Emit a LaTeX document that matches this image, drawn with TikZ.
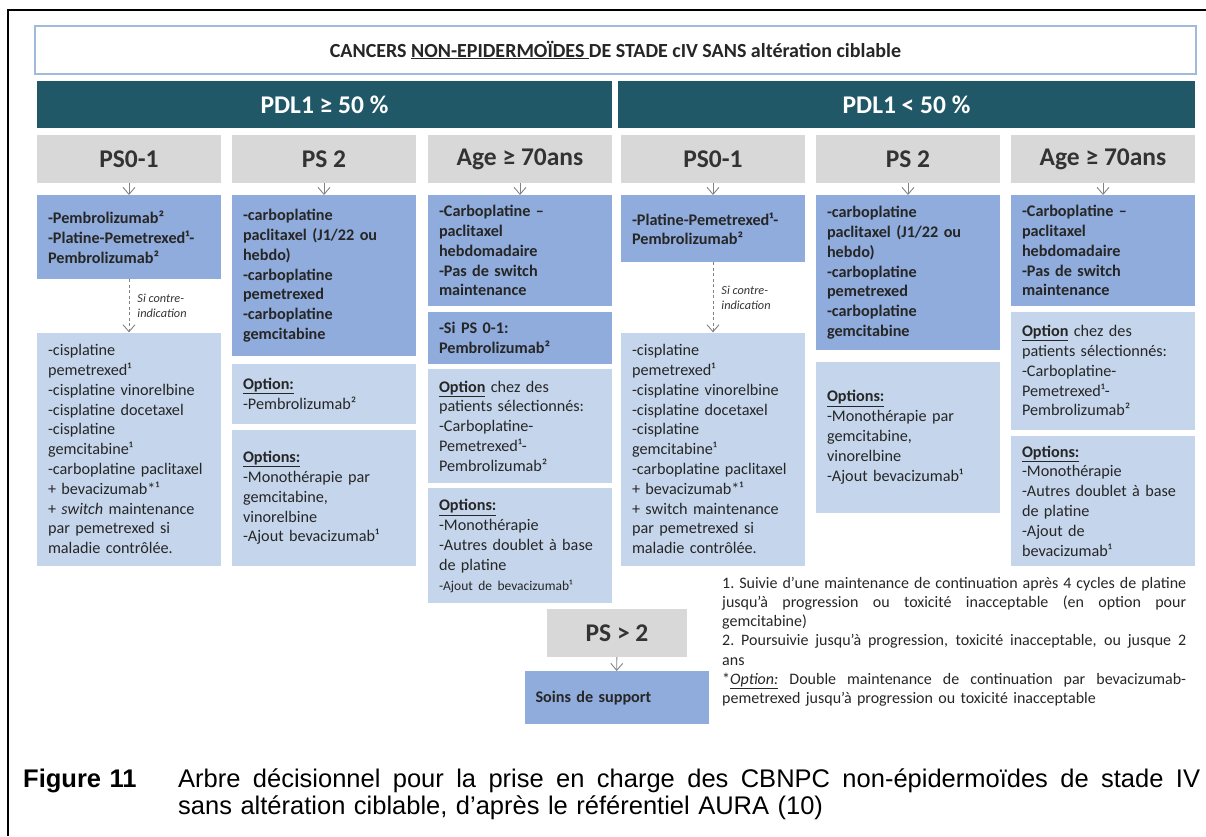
\documentclass[tikz,border=0pt]{standalone}
\usepackage{fontspec}
\setmainfont{Carlito}
\newfontfamily\capfont{Liberation Sans}
\usetikzlibrary{arrows.meta,positioning}
\definecolor{darkteal}{RGB}{33,88,104}
\definecolor{headgray}{RGB}{216,216,216}
\definecolor{midblue}{RGB}{143,172,220}
\definecolor{paleblue}{RGB}{197,214,236}
\definecolor{titleblue}{RGB}{160,185,220}
\definecolor{arrowgray}{RGB}{130,130,130}
\newcommand{\boxfont}{\fontsize{16.2}{19.8}\selectfont}
\newcommand{\headfont}{\fontsize{25.5}{28}\selectfont\bfseries}
\newcommand{\notefont}{\fontsize{16}{19.3}\selectfont}
\newcommand{\capsize}{\fontsize{25.5}{27}\selectfont}
\newcommand{\opt}[1]{\textbf{\underline{#1}}}
\newcommand{\spreadline}[2][\linewidth]{{\spaceskip=.25em plus 3em minus .05em\xspaceskip=\spaceskip\makebox[#1][s]{#2}}}

\begin{document}
\begin{tikzpicture}[x=1pt,y=-1pt,
    titlebox/.style={draw=titleblue, line width=1.2pt, fill=white, minimum width=1161pt, minimum height=48pt, font=\fontsize{20}{22}\selectfont\bfseries, text=black!85},
    bar/.style={fill=darkteal, text=white, minimum height=47pt, font=\headfont, inner sep=0pt},
    psbox/.style={fill=headgray, text=black!80, minimum width=184pt, minimum height=48pt, font=\headfont, inner sep=0pt},
    darkbox/.style={fill=midblue, text=black!85, text width=162pt, inner xsep=11pt, inner ysep=2pt, align=left, font=\boxfont\bfseries},
    lightbox/.style={fill=paleblue, text=black!85, text width=162pt, inner xsep=11pt, inner ysep=2pt, align=left, font=\boxfont},
    varrow/.style={draw=arrowgray, line width=0.9pt, -{Straight Barb[length=7pt,width=12pt]}},
    dasharrow/.style={varrow, dash pattern=on 3pt off 2.5pt},
    sinote/.style={right, xshift=8pt, font=\fontsize{12.3}{15}\selectfont\itshape, text=black!80, align=left, inner sep=0pt}
]
    \useasboundingbox (0,0) rectangle (1206,836);
    \draw[line width=2pt] (8,836) -- (8,10) -- (1206,10);

    % title and PD-L1 bars
    \node[titlebox] (title) at (615.5,50) {CANCERS \underline{NON-EPIDERMOÏDES }DE STADE cIV SANS altération ciblable};
    \node[bar, minimum width=575pt] (pdlhi) at (324.5,104.5) {PDL1 ≥ 50 \%};
    \node[bar, minimum width=577pt] (pdllo) at (906.5,104.5) {PDL1 < 50 \%};

    % PS headers
    \node[psbox] (g1) at (129,159) {PS0-1};
    \node[psbox] (g2) at (324,159) {PS 2};
    \node[psbox] (g3) at (520,159) {Age ≥ 70ans};
    \node[psbox] (g4) at (713,159) {PS0-1};
    \node[psbox] (g5) at (908,159) {PS 2};
    \node[psbox] (g6) at (1103,159) {Age ≥ 70ans};

    % PDL1 >= 50
    \node[darkbox, anchor=north, minimum height=84pt] (c1a) at (129,195) {-Pembrolizumab²\\-Platine-Pemetrexed¹-\\Pembrolizumab²};
    \node[lightbox, below=53pt of c1a, minimum height=233pt] (c1b) {-cisplatine\\pemetrexed¹\\-cisplatine vinorelbine\\-cisplatine docetaxel\\-cisplatine\\gemcitabine¹\\-carboplatine paclitaxel\\+ bevacizumab*¹\\+ \textit{switch} maintenance\\par pemetrexed si\\maladie contrôlée.};

    \node[darkbox, anchor=north, minimum height=161pt] (c2a) at (324,195) {-carboplatine\\paclitaxel (J1/22 ou\\hebdo)\\-carboplatine\\pemetrexed\\-carboplatine\\gemcitabine};
    \node[lightbox, below=7pt of c2a, minimum height=60pt] (c2b) {\opt{Option:}\\-Pembrolizumab²};
    \node[lightbox, below=6pt of c2b, minimum height=136pt] (c2c) {\opt{Options:}\\-Monothérapie par\\gemcitabine,\\vinorelbine\\-Ajout bevacizumab¹};

    \node[darkbox, anchor=north, minimum height=111pt] (c3a) at (520,195) {-Carboplatine –\\paclitaxel\\hebdomadaire\\-Pas de switch\\maintenance};
    \node[darkbox, below=5pt of c3a, minimum height=52pt] (c3b) {-Si PS 0-1:\\Pembrolizumab²};
    \node[lightbox, below=5pt of c3b, minimum height=114pt] (c3c) {\opt{Option} chez des\\patients sélectionnés:\\-Carboplatine-\\Pemetrexed¹-\\Pembrolizumab²};
    \node[lightbox, below=5pt of c3c, minimum height=115pt] (c3d) {\opt{Options:}\\-Monothérapie\\-Autres doublet à base\\de platine\\{\fontsize{13.5}{16}\selectfont -Ajout de bevacizumab¹}};

    % PDL1 < 50
    \node[darkbox, anchor=north, minimum height=67pt] (c4a) at (713,195) {-Platine-Pemetrexed¹-\\Pembrolizumab²};
    \node[lightbox, below=70pt of c4a, minimum height=233pt] (c4b) {-cisplatine\\pemetrexed¹\\-cisplatine vinorelbine\\-cisplatine docetaxel\\-cisplatine\\gemcitabine¹\\-carboplatine paclitaxel\\+ bevacizumab*¹\\+ switch maintenance\\par pemetrexed si\\maladie contrôlée.};

    \node[darkbox, anchor=north, minimum height=155pt] (c5a) at (908,195) {-carboplatine\\paclitaxel (J1/22 ou\\hebdo)\\-carboplatine\\pemetrexed\\-carboplatine\\gemcitabine};
    \node[lightbox, below=11pt of c5a, minimum height=151pt] (c5b) {\opt{Options:}\\-Monothérapie par\\gemcitabine,\\vinorelbine\\-Ajout bevacizumab¹};

    \node[darkbox, anchor=north, minimum height=111pt] (c6a) at (1103,195) {-Carboplatine –\\paclitaxel\\hebdomadaire\\-Pas de switch\\maintenance};
    \node[lightbox, below=5pt of c6a, minimum height=118pt] (c6b) {\opt{Option} chez des\\patients sélectionnés:\\-Carboplatine-\\Pemetrexed¹-\\Pembrolizumab²};
    \node[lightbox, below=6pt of c6b, minimum height=130pt] (c6c) {\opt{Options:}\\-Monothérapie\\-Autres doublet à base\\de platine\\-Ajout de\\bevacizumab¹};

    % PS > 2
    \node[psbox, minimum width=140pt, minimum height=48pt] (g7) at (617,633) {PS > 2};
    \node[darkbox, anchor=north, minimum height=53pt] (soins) at (616.5,671) {Soins de support};

    \foreach \g/\c in {g1/c1a,g2/c2a,g3/c3a,g4/c4a,g5/c5a,g6/c6a,g7/soins}
        \draw[varrow] (\g) -- (\c);
    \draw[dasharrow] (c1a) -- node[sinote] {Si contre-\\indication} (c1b);
    \draw[dasharrow] (c4a) -- node[sinote] {Si contre-\\indication} (c4b);

    % footnotes
    \node[anchor=base west, text width=464pt, inner sep=0pt, align=left, font=\notefont, text=black!85] (notes) at (722,588) {\spreadline{1. Suivie d’une maintenance de continuation après 4 cycles de platine}\\\spreadline{jusqu’à progression ou toxicité inacceptable (en option pour}\\gemcitabine)\\\spreadline{2. Poursuivie jusqu’à progression, toxicité inacceptable, ou jusque 2}\\ans\\\spreadline{*\underline{\textit{Option:}} Double maintenance de continuation par bevacizumab-}\\pemetrexed jusqu’à progression ou toxicité inacceptable};

    % caption
    \node[anchor=base west, text width=1177pt, inner sep=0pt, align=left, font=\capfont\capsize] (caption) at (23,787) {\makebox[155pt][l]{\bfseries Figure 11}\spreadline[1022pt]{Arbre décisionnel pour la prise en charge des CBNPC non-épidermoïdes de stade IV}\\\hspace*{155pt}sans altération ciblable, d’après le référentiel AURA (10)};
\end{tikzpicture}
\end{document}
